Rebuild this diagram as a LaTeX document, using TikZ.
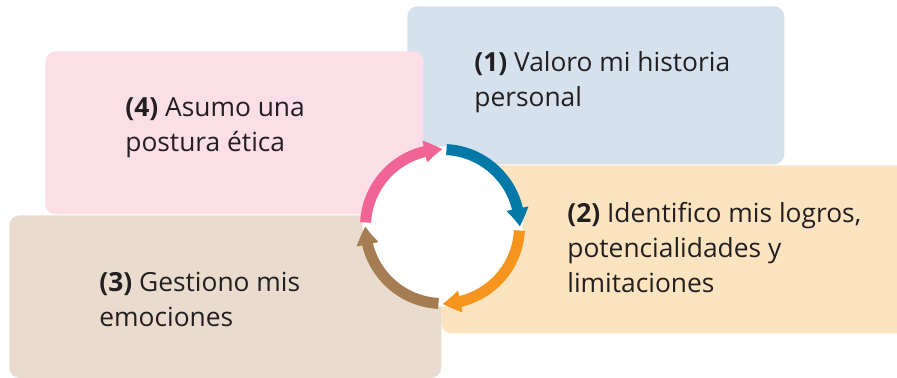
\documentclass[tikz,border=0pt]{standalone}
\usepackage{fontspec}
\setmainfont{Open Sans}
\usetikzlibrary{arrows.meta,bending}
\definecolor{paleblue}{RGB}{213,226,237}
\definecolor{palepink}{RGB}{251,222,230}
\definecolor{paleorange}{RGB}{253,228,192}
\definecolor{palebrown}{RGB}{233,220,206}
\definecolor{ringblue}{RGB}{0,121,168}
\definecolor{ringorange}{RGB}{247,148,29}
\definecolor{ringbrown}{RGB}{166,124,82}
\definecolor{ringpink}{RGB}{240,100,150}
\definecolor{inkgray}{RGB}{35,31,32}

\begin{document}
\begin{tikzpicture}[x=0.02cm, y=0.02cm, font=\fontsize{15}{20.2}\selectfont,
  every node/.style={inner sep=0pt},
  panel/.style={fill=#1, rounded corners=0.2cm, anchor=north west},
  steptext/.style={anchor=base west, align=left, text=inkgray},
  ringarrow/.style={draw=#1, line width=0.22cm, -{Triangle[width=0.42cm,length=0.36cm,bend]}}]
  \clip (0,0) rectangle (897,-378);
  \useasboundingbox (0,0) rectangle (897,-378);
  \node[panel=paleblue, minimum width=7.54cm, minimum height=3.16cm] (p1) at (407,-6) {};
  \node[panel=paleorange, minimum width=9.4cm, minimum height=3.36cm] (p2) at (441,-165) {};
  \node[panel=palebrown, minimum width=8.64cm, minimum height=3.25cm] (p3) at (9,-215) {};
  \node[panel=palepink, minimum width=7.56cm, minimum height=3.26cm] (p4) at (45,-51) {};
  \node[steptext] (t1) at (474,-107) {\textbf{(1)} Valoro mi historia\\personal};
  \node[steptext] (t2) at (567,-293) {\textbf{(2)} Identifico mis logros,\\potencialidades y\\limitaciones};
  \node[steptext] (t3) at (99,-327) {\textbf{(3)} Gestiono mis\\emociones};
  \node[steptext] (t4) at (125,-152) {\textbf{(4)} Asumo una\\postura ética};
  \coordinate (hub) at (442.5,-226.5);
  \fill[white] (hub) circle[radius=80];
  \draw[ringarrow=ringblue] ([shift={(87:77)}]hub) arc[start angle=87, end angle=0, radius=77];
  \draw[ringarrow=ringorange] ([shift={(-3:77)}]hub) arc[start angle=-3, end angle=-90, radius=77];
  \draw[ringarrow=ringbrown] ([shift={(-93:77)}]hub) arc[start angle=-93, end angle=-180, radius=77];
  \draw[ringarrow=ringpink] ([shift={(177:77)}]hub) arc[start angle=177, end angle=90, radius=77];
\end{tikzpicture}
\end{document}
